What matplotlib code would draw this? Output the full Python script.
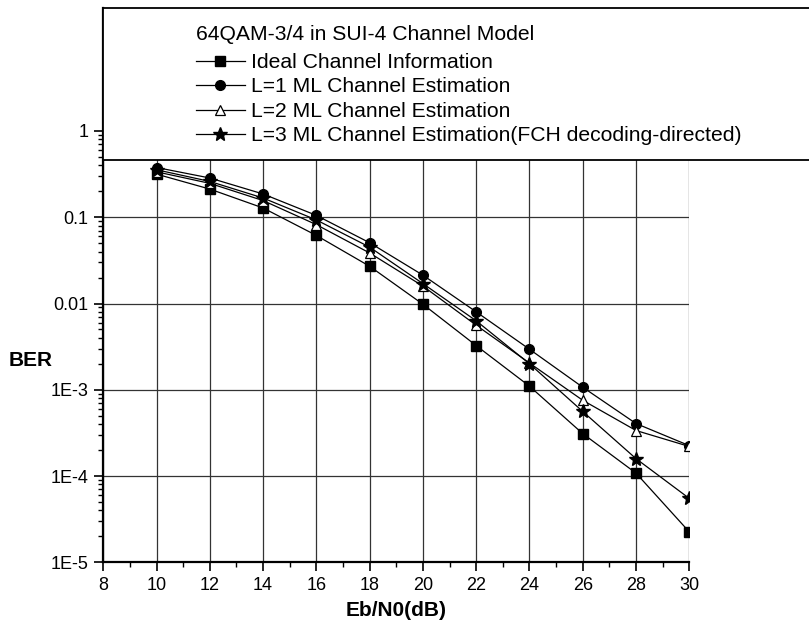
import numpy as np
import matplotlib
matplotlib.use("Agg")
import matplotlib.pyplot as plt
from matplotlib.patches import Rectangle
from matplotlib.ticker import FixedLocator, NullFormatter

plt.rcParams['font.family'] = ['Liberation Sans', 'DejaVu Sans']

# Eb/N0 (dB) and BER
ebn0 = [10, 12, 14, 16, 18, 20, 22, 24, 26, 28, 30]
ber_ideal = [0.316, 0.212, 0.128, 0.0615, 0.027, 0.0098, 0.00325, 0.0011, 3.1e-4, 1.08e-4, 2.25e-5]
ber_l1 = [0.377, 0.285, 0.186, 0.105, 0.0506, 0.0213, 0.0080, 0.00295, 1.07e-3, 4.06e-4, 2.25e-4]
ber_l2 = [0.336, 0.247, 0.156, 0.082, 0.0385, 0.0159, 0.0056, 0.00204, 7.55e-4, 3.37e-4, 2.2e-4]
ber_l3 = [0.355, 0.26, 0.167, 0.093, 0.045, 0.017, 0.0063, 0.0020, 5.6e-4, 1.59e-4, 5.5e-5]

labels = ['Ideal Channel Information',
          'L=1 ML Channel Estimation',
          'L=2 ML Channel Estimation',
          'L=3 ML Channel Estimation(FCH decoding-directed)']
legend_title = '64QAM-3/4 in SUI-4 Channel Model'

y_tick_vals = [1e-5, 1e-4, 1e-3, 0.01, 0.1, 1]
y_tick_labels = ['1E-5', '1E-4', '1E-3', '0.01', '0.1', '1']

W, H = 809, 633
fig = plt.figure(figsize=(W / 100, H / 100), dpi=100)
fig.patch.set_facecolor('white')

# axes box in pixels
ax_l, ax_r, ax_t, ax_b = 103.3, 689.3, 8.3, 562.3
ax = fig.add_axes([ax_l / W, 1 - ax_b / H, (ax_r - ax_l) / W, (ax_b - ax_t) / H])

ax.set_yscale('log')
ax.set_xlim(8, 30)
ax.set_ylim(1e-5, 10 ** 1.422)

lw = 0.9
h1, = ax.plot(ebn0, ber_ideal, '-', color='k', lw=lw, marker='s', ms=6.5,
              mfc='k', mec='k', zorder=3)
h2, = ax.plot(ebn0, ber_l1, '-', color='k', lw=lw, marker='o', ms=7,
              mfc='k', mec='k', zorder=3)
h3, = ax.plot(ebn0, ber_l2, '-', color='k', lw=lw, marker='^', ms=7.5,
              mfc='white', mec='k', mew=0.9, zorder=3)
h4, = ax.plot(ebn0, ber_l3, '-', color='k', lw=lw, marker='*', ms=10,
              mfc='k', mec='k', zorder=3)

# ticks
ax.xaxis.set_major_locator(FixedLocator(np.arange(8, 31, 2)))
ax.xaxis.set_minor_locator(FixedLocator(np.arange(9, 30, 2)))
ax.yaxis.set_major_locator(FixedLocator(y_tick_vals))
ax.set_yticklabels(y_tick_labels)
minors = [m * 10.0 ** e for e in range(-5, 0) for m in range(2, 10)]
ax.yaxis.set_minor_locator(FixedLocator(minors))
ax.yaxis.set_minor_formatter(NullFormatter())
ax.tick_params(which='major', direction='out', length=6.5, width=1.2,
               labelsize=13, pad=4, color='k')
ax.tick_params(which='minor', direction='out', length=3.5, width=1.0, color='k')

for side in ['top', 'right']:
    ax.spines[side].set_visible(False)
for side in ['left', 'bottom']:
    ax.spines[side].set_linewidth(1.6)

ax.grid(True, which='major', color='0.2', lw=0.9)
ax.set_axisbelow(True)

ax.set_xlabel('Eb/N0(dB)', fontsize=15, fontweight='bold', va='center')
ax.xaxis.set_label_coords(0.5, -(610 - ax_b) / (ax_b - ax_t))
ax.set_ylabel('BER', fontsize=15, fontweight='bold', rotation=0,
              ha='center', va='center')
ax.yaxis.set_label_coords((31 - ax_l) / (ax_r - ax_l), (ax_b - 360) / (ax_b - ax_t))

# legend box spanning past the axes
box_top, box_bot = 8.3, 159.5
rect = Rectangle((ax_l / W, 1 - box_bot / H), (W + 5 - ax_l) / W, (box_bot - box_top) / H,
                 transform=fig.transFigure, facecolor='white', edgecolor='k',
                 lw=1.3, zorder=5, clip_on=False)
fig.patches.append(rect)

fig.text(196 / W, 1 - 35 / H, legend_title, fontsize=15.2, ha='left', va='center',
         zorder=6)
leg = fig.legend([h1, h2, h3, h4], labels, loc='upper left',
                 bbox_to_anchor=(196 / W, 1 - 53 / H), frameon=False,
                 prop={'size': 15.2}, handlelength=2.3, handletextpad=0.3,
                 labelspacing=0.26, borderpad=0, borderaxespad=0)
leg.set_zorder(6)

fig.savefig('out.png', dpi=100)
